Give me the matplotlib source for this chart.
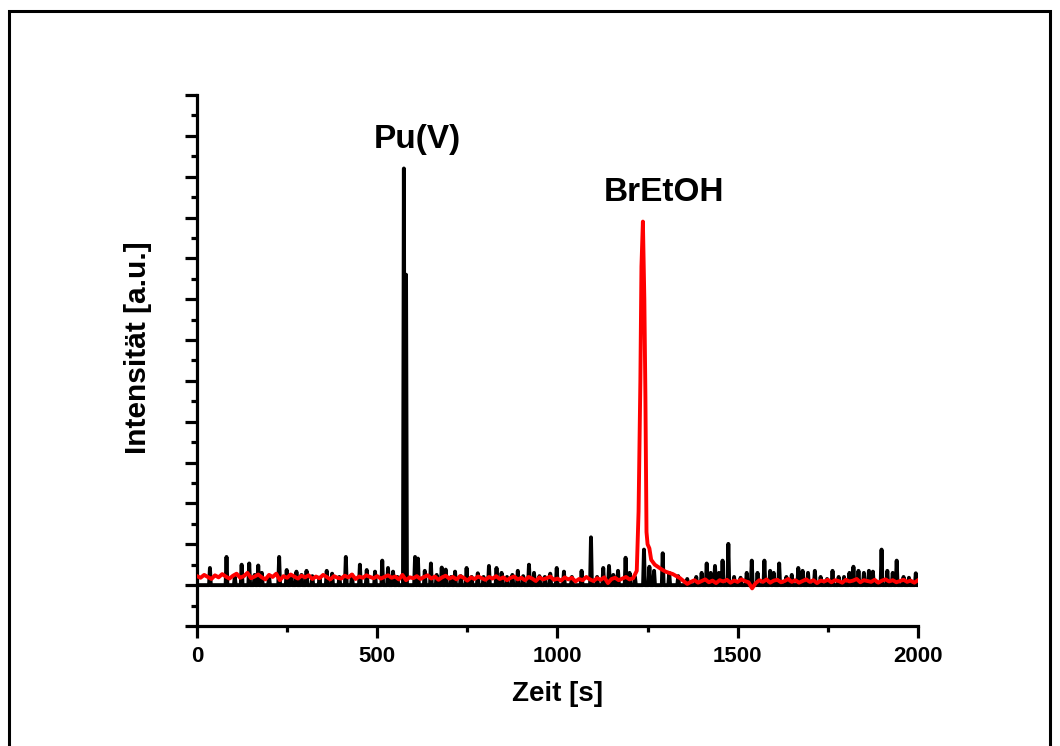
import matplotlib
matplotlib.use("Agg")
import matplotlib.pyplot as plt
from matplotlib.ticker import MultipleLocator
from matplotlib.patches import Rectangle

plt.rcParams['font.family'] = ['Liberation Sans', 'DejaVu Sans']
plt.rcParams['font.weight'] = 'bold'

# Pu(V) detector trace: individual spikes (time in s, intensity in a.u.)
pu_t = [36, 82, 105, 124, 145, 160, 170, 180, 200, 228, 249, 262, 276, 290, 304,
        320, 340, 360, 375, 395, 413, 430, 452, 471, 494, 514, 530, 544, 556,
        574, 580,
        605, 613, 632, 649, 665, 679, 690, 705, 716, 732, 748, 762, 779, 795,
        810, 831, 845, 860, 875, 890, 905, 921, 935, 950, 965, 980, 998, 1018,
        1040, 1067, 1093, 1110, 1127, 1143, 1155, 1168, 1189, 1200, 1215, 1240,
        1255, 1268, 1292, 1310, 1335, 1360, 1385, 1400, 1414, 1425, 1437, 1448,
        1458, 1474, 1490, 1508, 1525, 1539, 1555, 1574, 1590, 1600, 1615, 1635,
        1650, 1668, 1680, 1695, 1714, 1730, 1748, 1763, 1780, 1795, 1810, 1821,
        1835, 1850, 1864, 1875, 1899, 1915, 1930, 1941, 1960, 1975, 1994]
pu_y = [0.42, 0.69, 0.20, 0.50, 0.53, 0.25, 0.48, 0.30, 0.22, 0.69, 0.37, 0.20, 0.33, 0.25, 0.35,
        0.22, 0.18, 0.35, 0.28, 0.20, 0.69, 0.25, 0.50, 0.37, 0.33, 0.60, 0.42, 0.33, 0.20,
        10.2, 7.6,
        0.69, 0.65, 0.35, 0.53, 0.25, 0.43, 0.38, 0.20, 0.33, 0.22, 0.42, 0.20, 0.29, 0.20,
        0.47, 0.42, 0.30, 0.20, 0.25, 0.35, 0.22, 0.50, 0.30, 0.22, 0.20, 0.28, 0.42, 0.33,
        0.20, 0.35, 1.17, 0.20, 0.42, 0.47, 0.25, 0.35, 0.67, 0.30, 0.20, 0.87,
        0.45, 0.35, 0.78, 0.30, 0.22, 0.15, 0.20, 0.30, 0.53, 0.30, 0.47, 0.30,
        0.60, 1.01, 0.20, 0.18, 0.30, 0.60, 0.30, 0.60, 0.35, 0.30, 0.53, 0.20,
        0.25, 0.42, 0.35, 0.30, 0.35, 0.20, 0.15, 0.35, 0.20, 0.20, 0.30, 0.45,
        0.35, 0.30, 0.35, 0.33, 0.87, 0.35, 0.30, 0.60, 0.20, 0.18, 0.29]

# BrEtOH detector trace
br_t = (list(range(0, 1220, 10))
        + [1220, 1225, 1230, 1233, 1237, 1241, 1244, 1247, 1250, 1255]
        + list(range(1260, 2001, 10)))
br_y = [0.22, 0.18, 0.25, 0.20, 0.15, 0.24, 0.19, 0.27, 0.21, 0.16,
        0.23, 0.28, 0.18, 0.22, 0.30, 0.17, 0.21, 0.26, 0.19, 0.14,
        0.25, 0.20, 0.28, 0.12, 0.22, 0.18, 0.26, 0.21, 0.16, 0.23,
        0.19, 0.24, 0.15, 0.21, 0.17, 0.25, 0.20, 0.14, 0.22, 0.18,
        0.16, 0.23, 0.19, 0.26, 0.15, 0.21, 0.18, 0.24, 0.20, 0.17,
        0.22, 0.16, 0.20, 0.24, 0.18, 0.21, 0.14, 0.25, 0.12, 0.19,
        0.17, 0.22, 0.15, 0.20, 0.24, 0.16, 0.21, 0.13, 0.19, 0.23,
        0.16, 0.20, 0.14, 0.22, 0.18, 0.11, 0.19, 0.15, 0.21, 0.17,
        0.13, 0.20, 0.16, 0.22, 0.15, 0.19, 0.12, 0.18, 0.21, 0.14,
        0.18, 0.12, 0.20, 0.16, 0.10, 0.19, 0.14, 0.17, 0.21, 0.13,
        0.16, 0.11, 0.19, 0.14, 0.18, 0.09, 0.15, 0.12, 0.20, 0.14,
        0.10, 0.17, 0.13, 0.19, 0.05, 0.15, 0.18, 0.12, 0.16, 0.20,
        0.14, 0.17,
        0.35, 1.8, 5.0, 7.8, 8.9, 7.0, 4.6, 1.3, 1.0, 0.9,
        0.62, 0.50, 0.44, 0.38, 0.33, 0.30, 0.27, 0.22, 0.17, 0.10,
        0.03, 0.08, 0.12, 0.06, 0.10, 0.14, 0.07, 0.11, 0.05, 0.12,
        0.09, 0.13, 0.06, 0.11, 0.08, 0.14, 0.10, 0.07, -0.08, 0.05,
        0.12, 0.08, 0.14, 0.06, 0.11, 0.13, 0.07, 0.10, 0.15, 0.08,
        0.12, 0.06, 0.10, 0.14, 0.08, 0.12, 0.05, 0.11, 0.09, 0.13,
        0.07, 0.12, 0.10, 0.06, 0.13, 0.09, 0.11, 0.15, 0.07, 0.12,
        0.10, 0.08, 0.13, 0.06, 0.11, 0.14, 0.09, 0.12, 0.07, 0.10,
        0.13, 0.08, 0.11, 0.06, 0.12]

x_ticks = [0, 500, 1000, 1500, 2000]
peak_labels = ["Pu(V)", "BrEtOH"]

fig = plt.figure(figsize=(10.6, 7.46), dpi=100)
ax = fig.add_axes([0.1858, 0.1609, 0.6802, 0.7118])

# Pu trace as narrow spikes standing on the zero line
sx, sy = [0.0], [0.0]
for t, h in zip(pu_t, pu_y):
    sx += [t - 2.5, t, t + 2.5]
    sy += [0.0, h, 0.0]
sx.append(2000.0)
sy.append(0.0)
ax.plot(sx, sy, color='black', lw=2.8, solid_joinstyle='round', zorder=2)
ax.plot(br_t, br_y, color='#ff0000', lw=2.8, solid_joinstyle='round', zorder=3)

ax.text(610, 10.9, peak_labels[0], ha='center', va='center', fontsize=24, fontweight='bold')
ax.text(1295, 9.6, peak_labels[1], ha='center', va='center', fontsize=24, fontweight='bold')

ax.set_xlim(0, 2000)
ax.set_ylim(-1, 12)
ax.spines['top'].set_visible(False)
ax.spines['right'].set_visible(False)
for s in ('left', 'bottom'):
    ax.spines[s].set_linewidth(2.3)

ax.set_xticks(x_ticks)
ax.xaxis.set_minor_locator(MultipleLocator(250))
ax.yaxis.set_major_locator(MultipleLocator(1))
ax.yaxis.set_minor_locator(MultipleLocator(0.5))
ax.tick_params(axis='both', which='major', direction='out', length=8.5, width=2.3)
ax.tick_params(axis='both', which='minor', direction='out', length=4.5, width=2.3)
ax.tick_params(axis='y', which='both', labelleft=False)
ax.tick_params(axis='x', labelsize=16, pad=6)
for lab in ax.get_xticklabels():
    lab.set_fontweight('bold')

ax.set_xlabel("Zeit [s]", fontsize=20, fontweight='bold')
ax.xaxis.set_label_coords(0.5, -0.104)
ax.set_ylabel("Intensität [a.u.]", fontsize=21.5, fontweight='bold')
ax.yaxis.set_label_coords(-0.062, 0.5235)

# outer frame around the figure
fig.patches.append(Rectangle((8.5 / 1060, -0.05), (1050 - 8.5) / 1060, 1.05 - 11 / 746,
                             transform=fig.transFigure, fill=False, lw=2.2,
                             edgecolor='black'))

fig.savefig("out.png", dpi=100)
